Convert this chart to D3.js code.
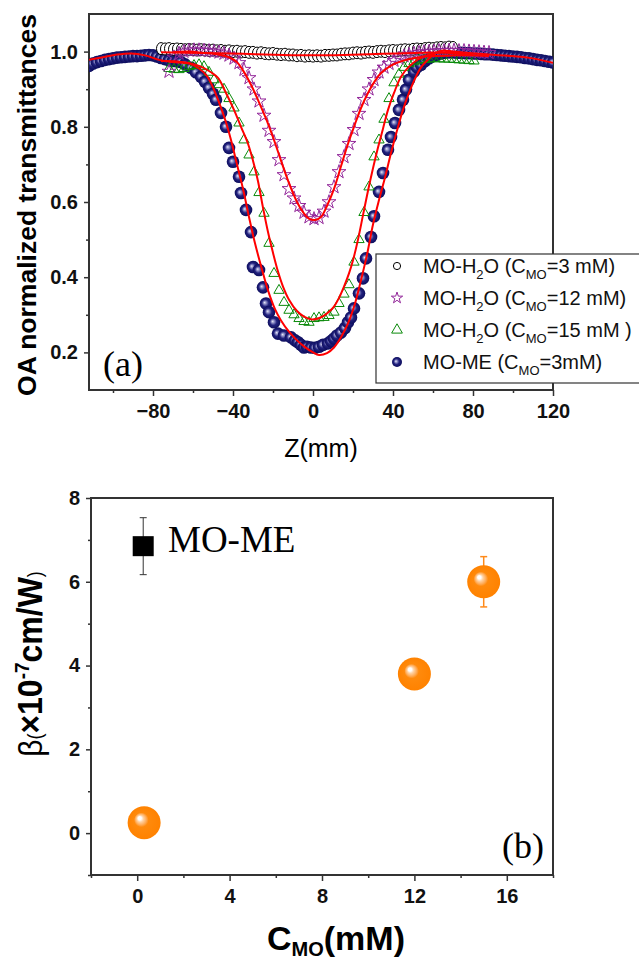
<!DOCTYPE html>
<html>
<head>
<meta charset="utf-8">
<script src="https://cdn.jsdelivr.net/npm/d3@7"></script>
<style>
  html, body { margin: 0; padding: 0; background: #fff; }
  svg { display: block; font-family: "Liberation Sans", Arial, sans-serif; }
</style>
</head>
<body>
<div id="chart"></div>
<script>
// ---- (a) open-aperture Z-scan data: [Z (mm), normalized T] ----
const h2o3 = [[-76,1.008],[-74,1.007],[-72,1.008],[-70,1.006],[-68,1.007],[-66,1.006],[-64,1.005],[-62,1.006],[-60,1.005],[-58,1.004],[-56,1.005],[-54,1.004],[-52,1.003],[-50,1.004],[-48,1.002],[-46,1.003],[-44,1.001],[-42,1.002],[-40,1.0],[-38,1.001],[-36,0.999],[-34,1.0],[-32,0.998],[-30,0.998],[-28,0.996],[-26,0.997],[-24,0.995],[-22,0.994],[-20,0.995],[-18,0.993],[-16,0.992],[-14,0.993],[-12,0.991],[-10,0.991],[-8,0.989],[-6,0.99],[-4,0.988],[-2,0.989],[0,0.988],[2,0.989],[4,0.988],[6,0.99],[8,0.99],[10,0.991],[12,0.991],[14,0.993],[16,0.994],[18,0.994],[20,0.996],[22,0.997],[24,0.996],[26,0.998],[28,0.999],[30,0.998],[32,1.0],[34,1.001],[36,1.0],[38,1.002],[40,1.003],[42,1.002],[44,1.004],[46,1.005],[48,1.004],[50,1.006],[52,1.007],[54,1.006],[56,1.008],[58,1.009],[60,1.008],[62,1.01],[64,1.011],[66,1.01],[68,1.012],[70,1.011]];

const h2o12 = [[-72,0.947],[-69.5,0.985],[-67,0.995],[-64.5,1.0],[-62,1.003],[-59.5,1.004],[-57,1.004],[-54.5,1.003],[-52,1.002],[-49.5,1.0],[-47,0.998],[-44.5,0.995],[-42,0.99],[-39.5,0.982],[-37,0.97],[-34.5,0.952],[-32,0.93],[-29.5,0.9],[-27,0.868],[-24.5,0.83],[-22,0.79],[-19.5,0.76],[-17,0.712],[-14.5,0.672],[-12,0.635],[-9.5,0.61],[-7,0.59],[-4.5,0.572],[-2,0.56],[0.5,0.555],[3,0.558],[5.5,0.575],[8,0.6],[10.5,0.64],[13,0.68],[15.5,0.72],[18,0.755],[20.5,0.792],[23,0.835],[25.5,0.872],[28,0.9],[30.5,0.925],[33,0.945],[35.5,0.958],[38,0.968],[40.5,0.976],[43,0.982],[45.5,0.988],[48,0.992],[50.5,0.995],[53,0.997],[55.5,0.999],[58,1.0],[60.5,1.001],[63,1.002],[65.5,1.002],[68,1.003],[70.5,1.003],[73,1.002],[75.5,1.002],[78,1.001],[80.5,1.0],[83,0.999],[85.5,0.998],[88,0.997]];

const h2o15 = [[-72,0.955],[-69.5,0.953],[-67,0.952],[-64.5,0.955],[-62,0.96],[-59.5,0.963],[-57,0.965],[-54.5,0.96],[-52,0.945],[-49.5,0.925],[-47,0.912],[-44.5,0.9],[-42,0.875],[-39.5,0.85],[-37,0.81],[-34.5,0.765],[-32,0.725],[-29.5,0.68],[-27,0.625],[-24.5,0.57],[-22,0.49],[-19.5,0.41],[-17,0.365],[-14.5,0.333],[-12,0.312],[-9.5,0.3],[-7,0.29],[-4.5,0.282],[-2,0.28],[0.5,0.29],[3,0.292],[5.5,0.293],[8,0.298],[10.5,0.307],[13,0.33],[15.5,0.355],[18,0.38],[20.5,0.44],[23,0.5],[25.5,0.572],[28,0.64],[30.5,0.72],[33,0.765],[35.5,0.82],[38,0.875],[40.5,0.917],[43,0.94],[45.5,0.958],[48,0.968],[50.5,0.973],[53,0.977],[55.5,0.979],[58,0.98],[60.5,0.981],[63,0.981],[65.5,0.98],[68,0.98],[70.5,0.979],[73,0.978],[75.5,0.977],[78,0.976],[80.5,0.975]];

const meData = [[-112,0.962],[-110,0.968],[-108,0.972],[-106,0.975],[-104,0.978],[-102,0.98],[-100,0.982],[-98,0.984],[-96,0.985],[-94,0.986],[-92,0.987],[-90,0.988],[-88,0.988],[-86,0.989],[-84,0.99],[-82,0.991],[-80,0.99],[-78,0.987],[-76,0.983],[-74,0.98],[-72,0.977],[-70,0.975],[-68,0.974],[-66,0.972],[-64,0.966],[-61,0.957],[-58.5,0.945],[-56,0.933],[-54,0.92],[-52,0.904],[-50,0.888],[-48.5,0.872],[-46,0.837],[-43.5,0.8],[-42,0.744],[-40,0.707],[-37,0.667],[-36,0.624],[-33.5,0.579],[-31,0.52],[-30,0.427],[-27,0.419],[-25,0.373],[-23.5,0.33],[-22,0.307],[-19.5,0.28],[-17.5,0.25],[-14.5,0.245],[-11,0.24],[-9,0.232],[-7.5,0.227],[-6,0.22],[-4.5,0.213],[-3,0.215],[-1,0.213],[1,0.212],[3,0.215],[5,0.22],[7.5,0.224],[9,0.23],[10.5,0.237],[12,0.245],[14,0.253],[16,0.265],[17.5,0.28],[19,0.293],[20.5,0.317],[23,0.357],[25,0.397],[26.5,0.45],[29,0.507],[30.5,0.562],[33,0.627],[35,0.677],[37.5,0.739],[39,0.773],[41,0.81],[43,0.845],[45,0.872],[46.5,0.899],[48,0.925],[50.5,0.947],[52,0.958],[54,0.965],[56,0.975],[58,0.982],[60,0.988],[62,0.992],[64,0.995],[66,0.997],[68,0.998],[70,0.998],[72,0.997],[74,0.997],[76,0.996],[78,0.996],[80,0.995],[82,0.995],[84,0.994],[86,0.993],[88,0.993],[90,0.992],[92,0.991],[94,0.99],[96,0.989],[98,0.988],[100,0.987],[102,0.986],[104,0.985],[106,0.983],[108,0.982],[110,0.98],[112,0.978],[114,0.977],[116,0.975],[118,0.973],[120,0.971]];

// theoretical fits (red lines)
const fitH3 = [[-76,0.998],[-55,0.996],[-35,0.994],[-15,0.991],[0,0.99],[15,0.991],[35,0.994],[55,0.997],[70,0.999]];
const fitH12 = [[-70,0.998],[-62,1.0],[-55,0.997],[-48,0.993],[-42,0.985],[-38,0.972],[-35,0.95],[-31,0.912],[-27,0.865],[-23,0.815],[-19.5,0.765],[-16,0.71],[-12,0.65],[-8,0.6],[-5,0.573],[-2,0.556],[1,0.552],[4,0.56],[7,0.59],[10.5,0.635],[14,0.695],[17.5,0.755],[20.5,0.8],[24,0.85],[27.5,0.89],[31,0.922],[34,0.943],[39,0.963],[44,0.974],[51,0.983],[59,0.988],[70,0.99],[80,0.99],[88,0.988]];
const fitH15 = [[-76,0.975],[-68,0.974],[-62,0.97],[-56,0.96],[-51,0.945],[-47.5,0.93],[-43.5,0.89],[-39.5,0.845],[-36,0.8],[-32.5,0.755],[-30,0.71],[-27.5,0.655],[-25,0.585],[-22.5,0.52],[-20,0.465],[-17.5,0.415],[-15,0.375],[-12,0.34],[-8,0.31],[-4.5,0.295],[-1,0.288],[2.5,0.29],[5.5,0.298],[8,0.308],[10.5,0.322],[13,0.345],[15.5,0.375],[18,0.41],[20,0.445],[22.5,0.5],[25,0.565],[27.5,0.63],[30,0.69],[32.5,0.745],[35,0.795],[37.5,0.845],[40.5,0.89],[44,0.933],[48,0.96],[52.5,0.979],[57,0.99],[62.5,0.997],[70,0.996],[80,0.99]];
const fitME = [[-112,0.978],[-105,0.985],[-98,0.992],[-91,0.995],[-84,0.99],[-77,0.978],[-70,0.972],[-62,0.968],[-57,0.955],[-53,0.935],[-50,0.905],[-47,0.865],[-44,0.82],[-41,0.765],[-38,0.7],[-35,0.635],[-32,0.56],[-29,0.49],[-26,0.43],[-22.5,0.365],[-19,0.315],[-16,0.285],[-12,0.255],[-8,0.232],[-4,0.214],[0,0.2],[3,0.193],[7,0.198],[10.5,0.213],[14,0.24],[17.5,0.277],[21,0.33],[24,0.392],[27,0.46],[30,0.54],[33,0.605],[36,0.665],[39,0.73],[42,0.79],[45,0.845],[48,0.89],[51,0.928],[54,0.958],[57.5,0.979],[61,0.995],[65,1.003],[70,1.0],[78,0.996],[88,0.992],[100,0.988],[110,0.982],[120,0.97]];

const zTicks = [-80, -40, 0, 40, 80, 120];
const zMinor = [-100, -60, -20, 20, 60, 100];
const tTicks = [0.2, 0.4, 0.6, 0.8, 1.0];
const tMinor = [0.3, 0.5, 0.7, 0.9];

// ---- (b) nonlinear absorption coefficient ----
const concH2O = [0.3, 12, 15];
const betaH2O = [0.25, 3.8, 6.0];
const errH2O = [0.15, 0.15, 0.6];
const concME = [0.26];
const betaME = [6.85];
const errME = [0.68];
const cTicks = [0, 4, 8, 12, 16];
const cMinor = [-2, 2, 6, 10, 14, 18];
const bTicks = [0, 2, 4, 6, 8];
const bMinor = [-1, 1, 3, 5, 7];

const W = 639, H = 961;
const AX = '#333';
const svg = d3.select('#chart').append('svg').attr('width', W).attr('height', H);

const defs = svg.append('defs');
const gN = defs.append('radialGradient').attr('id', 'navy')
  .attr('cx', '50%').attr('cy', '50%').attr('r', '50%').attr('fx', '38%').attr('fy', '42%');
gN.append('stop').attr('offset', '0%').attr('stop-color', '#e6e6f6');
gN.append('stop').attr('offset', '25%').attr('stop-color', '#8a8ac4');
gN.append('stop').attr('offset', '55%').attr('stop-color', '#22227e');
gN.append('stop').attr('offset', '100%').attr('stop-color', '#0c0c5c');
const gO = defs.append('radialGradient').attr('id', 'orange')
  .attr('cx', '50%').attr('cy', '50%').attr('r', '50%').attr('fx', '35%').attr('fy', '35%');
gO.append('stop').attr('offset', '0%').attr('stop-color', '#ffffff');
gO.append('stop').attr('offset', '10%').attr('stop-color', '#ffffff');
gO.append('stop').attr('offset', '20%').attr('stop-color', '#ffd2a4');
gO.append('stop').attr('offset', '34%').attr('stop-color', '#ffaa55');
gO.append('stop').attr('offset', '44%').attr('stop-color', '#ff8a0c');
gO.append('stop').attr('offset', '100%').attr('stop-color', '#ff8200');

function drawAxes(g, x, y, major, minorX, majY, minY, fmtY) {
  const [x0, x1] = x.range();
  const [y0, y1] = y.range();
  const ax = g.append('g').attr('transform', `translate(0,${y0})`)
    .call(d3.axisBottom(x).tickValues(major).tickSize(6).tickSizeOuter(0).tickPadding(8));
  const axm = g.append('g').attr('transform', `translate(0,${y0})`)
    .call(d3.axisBottom(x).tickValues(minorX).tickSize(3).tickSizeOuter(0).tickFormat(''));
  const ay = g.append('g').attr('transform', `translate(${x0},0)`)
    .call(d3.axisLeft(y).tickValues(majY).tickSize(5).tickSizeOuter(0).tickPadding(6).tickFormat(fmtY));
  const aym = g.append('g').attr('transform', `translate(${x0},0)`)
    .call(d3.axisLeft(y).tickValues(minY).tickSize(3).tickSizeOuter(0).tickFormat(''));
  [ax, axm, ay, aym].forEach(a => {
    a.select('.domain').remove();
    a.selectAll('line').attr('stroke', AX).attr('stroke-width', 1.5);
    a.selectAll('text').attr('fill', '#111').attr('font-size', 20).attr('font-weight', 700)
      .attr('font-family', '"Liberation Sans", Arial, sans-serif');
  });
  g.append('rect').attr('x', x0).attr('y', y1).attr('width', x1 - x0).attr('height', y0 - y1)
    .attr('fill', 'none').attr('stroke', AX).attr('stroke-width', 2);
}

// ================= panel (a) =================
const xA = d3.scaleLinear().domain([-112, 120]).range([89, 553]);
const yA = d3.scaleLinear().domain([0.1, 1.1]).range([390, 14]);
const gA = svg.append('g');
defs.append('clipPath').attr('id', 'clipA').append('rect')
  .attr('x', 89).attr('y', 14).attr('width', 464).attr('height', 376);
drawAxes(gA, xA, yA, zTicks, zMinor, tTicks, tMinor, d3.format('.1f'));

const plotA = gA.append('g').attr('clip-path', 'url(#clipA)');

plotA.append('g').selectAll('circle').data(meData).join('circle')
  .attr('cx', d => xA(d[0])).attr('cy', d => yA(d[1])).attr('r', 6.3)
  .attr('fill', 'url(#navy)');

plotA.append('g').selectAll('ellipse').data(h2o3).join('ellipse')
  .attr('cx', d => xA(d[0])).attr('cy', d => yA(d[1])).attr('rx', 4.5).attr('ry', 6)
  .attr('fill', '#fff').attr('stroke', '#000').attr('stroke-width', 1);

const tri = d3.symbol().type(d3.symbolTriangle).size(46);
plotA.append('g').selectAll('path').data(h2o15).join('path')
  .attr('d', tri).attr('transform', d => `translate(${xA(d[0])},${yA(d[1])})`)
  .attr('fill', 'none').attr('stroke', '#0a8a0a').attr('stroke-width', 1);

const star = d3.symbol().type(d3.symbolStar).size(60);
plotA.append('g').selectAll('path').data(h2o12).join('path')
  .attr('d', star).attr('transform', d => `translate(${xA(d[0])},${yA(d[1])})`)
  .attr('fill', 'none').attr('stroke', '#93279a').attr('stroke-width', 1);

const lineA = d3.line().x(d => xA(d[0])).y(d => yA(d[1])).curve(d3.curveCatmullRom);
[fitH3, fitH12, fitH15, fitME].forEach(f => {
  plotA.append('path').datum(f).attr('d', lineA)
    .attr('fill', 'none').attr('stroke', '#ff0000').attr('stroke-width', 2);
});

gA.append('text').attr('x', 103).attr('y', 376)
  .attr('font-family', '"Liberation Serif", "Times New Roman", serif').attr('font-size', 36)
  .text('(a)');

gA.append('text').attr('transform', 'translate(36,205) rotate(-90)')
  .attr('text-anchor', 'middle').attr('font-size', 26.5).attr('font-weight', 700)
  .text('OA normalized transmittances');

gA.append('text').attr('x', 321).attr('y', 457).attr('text-anchor', 'middle')
  .attr('font-size', 25).text('Z(mm)');

// legend
const leg = gA.append('g');
leg.append('rect').attr('x', 376).attr('y', 254).attr('width', 270).attr('height', 129)
  .attr('fill', '#fff').attr('stroke', AX).attr('stroke-width', 1.2);
const legRows = [
  { sym: 'circle', conc: '=3 mM)', pre: 'MO-H', water: true },
  { sym: 'star', conc: '=12 mM)', pre: 'MO-H', water: true },
  { sym: 'tri', conc: '=15 mM )', pre: 'MO-H', water: true },
  { sym: 'sphere', conc: '=3mM)', pre: 'MO-ME (C', water: false }
];
const legY = [273, 305, 337, 369];
legRows.forEach((r, i) => {
  const cy = legY[i] - 7;
  if (r.sym === 'circle') {
    leg.append('circle').attr('cx', 397).attr('cy', cy).attr('r', 3.6)
      .attr('fill', '#fff').attr('stroke', '#000');
  } else if (r.sym === 'star') {
    leg.append('path').attr('d', d3.symbol().type(d3.symbolStar).size(40))
      .attr('transform', `translate(397,${cy})`).attr('fill', 'none').attr('stroke', '#93279a');
  } else if (r.sym === 'tri') {
    leg.append('path').attr('d', d3.symbol().type(d3.symbolTriangle).size(50))
      .attr('transform', `translate(397,${cy})`).attr('fill', 'none').attr('stroke', '#0a8a0a');
  } else {
    leg.append('circle').attr('cx', 397).attr('cy', cy).attr('r', 5).attr('fill', 'url(#navy)');
  }
  const t = leg.append('text').attr('x', 423).attr('y', legY[i]).attr('font-size', 20).attr('fill', '#111');
  if (r.water) {
    t.append('tspan').text('MO-H');
    t.append('tspan').attr('font-size', 13).attr('dy', 6).text('2');
    t.append('tspan').attr('dy', -6).text('O (C');
  } else {
    t.append('tspan').text(r.pre);
  }
  t.append('tspan').attr('font-size', 13).attr('dy', 6).text('MO');
  t.append('tspan').attr('dy', -6).text(r.conc);
});

// ================= panel (b) =================
const xB = d3.scaleLinear().domain([-2, 18]).range([91, 553]);
const yB = d3.scaleLinear().domain([-1, 8]).range([875, 498]);
const gB = svg.append('g');
drawAxes(gB, xB, yB, cTicks, cMinor, bTicks, bMinor, d3.format('d'));

// error bars first, markers on top
function errBar(g, x, y, e, color, w) {
  const px = xB(x);
  g.append('line').attr('x1', px).attr('x2', px).attr('y1', yB(y - e)).attr('y2', yB(y + e))
    .attr('stroke', color).attr('stroke-width', w);
  [y - e, y + e].forEach(v => g.append('line').attr('x1', px - 3.5).attr('x2', px + 3.5)
    .attr('y1', yB(v)).attr('y2', yB(v)).attr('stroke', color).attr('stroke-width', w));
}
concH2O.forEach((c, i) => errBar(gB, c, betaH2O[i], errH2O[i], '#ff8a1a', 1.5));
concME.forEach((c, i) => errBar(gB, c, betaME[i], errME[i], '#333', 1));

gB.append('g').selectAll('circle').data(concH2O).join('circle')
  .attr('cx', d => xB(d)).attr('cy', (d, i) => yB(betaH2O[i])).attr('r', 16.5)
  .attr('fill', 'url(#orange)');
gB.append('g').selectAll('rect').data(concME).join('rect')
  .attr('x', d => xB(d) - 10.5).attr('y', (d, i) => yB(betaME[i]) - 10)
  .attr('width', 21).attr('height', 20).attr('fill', '#000');

gB.append('text').attr('x', 168).attr('y', 552)
  .attr('font-family', '"Liberation Serif", "Times New Roman", serif').attr('font-size', 37)
  .text('MO-ME');
gB.append('text').attr('x', 502).attr('y', 858)
  .attr('font-family', '"Liberation Serif", "Times New Roman", serif').attr('font-size', 36)
  .text('(b)');

const xt = gB.append('text').attr('x', 267).attr('y', 950).attr('font-size', 34).attr('font-weight', 700);
xt.append('tspan').text('C');
xt.append('tspan').attr('font-size', 20).attr('dy', 6).text('MO');
xt.append('tspan').attr('dy', -6).text('(mM)');

const yt = gB.append('text').attr('transform', 'translate(42,664) rotate(-90) scale(1,1.1)')
  .attr('text-anchor', 'middle').attr('font-size', 32).attr('font-weight', 700);
yt.append('tspan').attr('font-weight', 400).attr('font-size', 30).text('β');
yt.append('tspan').attr('font-weight', 400).attr('font-size', 18).text('(');
yt.append('tspan').text('×10');
yt.append('tspan').attr('font-size', 19).attr('dy', -12).text('-7');
yt.append('tspan').attr('dy', 12).text('cm/W');
yt.append('tspan').attr('font-weight', 400).attr('font-size', 18).text(')');
</script>
</body>
</html>
